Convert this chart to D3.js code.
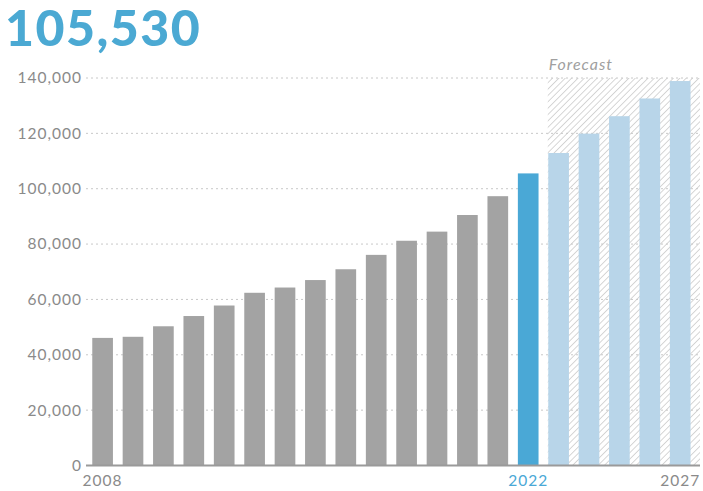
<!DOCTYPE html>
<html>
<head>
<meta charset="utf-8">
<script src="https://cdn.jsdelivr.net/npm/d3@7"></script>
<style>
  body { margin: 0; background: #fff; }
  svg { display: block; font-family: Lato, "Open Sans", sans-serif; }
</style>
</head>
<body>
<div id="chart"></div>
<script>
var years = ["2008","2009","2010","2011","2012","2013","2014","2015","2016","2017",
             "2018","2019","2020","2021","2022","2023","2024","2025","2026","2027"];
var values = [46100, 46500, 50300, 54000, 57800, 62400, 64300, 67000, 70900, 76100,
              81200, 84500, 90500, 97300, 105530, 112900, 119900, 126200, 132600, 138900];
var yTicks = [0, 20000, 40000, 60000, 80000, 100000, 120000, 140000];
var xLabels = ["2008", "2022", "2027"];
var currentYear = "2022";
var forecastStart = "2023";
var headline = "105,530";

var width = 703, height = 491;
var margin = {top: 78, right: 3, bottom: 25.5, left: 87.4};

var svg = d3.select("#chart")
  .append("svg")
    .attr("width", width)
    .attr("height", height);

var x = d3.scaleBand()
  .domain(years)
  .range([margin.left, 695.4])
  .paddingInner(0.32)
  .paddingOuter(0.16);

var y = d3.scaleLinear()
  .domain([0, 140000])
  .range([height - margin.bottom, margin.top]);

// hatch pattern for forecast
var defs = svg.append("defs");
var pat = defs.append("pattern")
  .attr("id", "hatch")
  .attr("patternUnits", "userSpaceOnUse")
  .attr("width", 4.5)
  .attr("height", 4.5)
  .attr("patternTransform", "rotate(45)");
pat.append("line")
  .attr("x1", 0).attr("y1", 0)
  .attr("x2", 0).attr("y2", 4.5)
  .style("stroke", "#d2d2d2")
  .style("stroke-width", 1.8);

// headline
svg.append("text")
  .attr("x", 5)
  .attr("y", 46)
  .style("font-size", "50px")
  .style("font-weight", "900")
  .style("fill", "#4ba9d3")
  .style("letter-spacing", "1.5px")
  .text(headline);

// forecast area
var fx = x(forecastStart) - 0.5;
svg.append("rect")
  .attr("x", fx)
  .attr("y", y(140000))
  .attr("width", width - 3 - fx)
  .attr("height", y(0) - y(140000))
  .style("fill", "url(#hatch)");

svg.append("text")
  .attr("x", fx + 1)
  .attr("y", 70)
  .style("font-size", "16px")
  .style("font-style", "italic")
  .style("fill", "#a0a0a0")
  .style("letter-spacing", "1px")
  .text("Forecast");

// gridlines
svg.append("g")
  .selectAll("line")
  .data(yTicks.filter(function(d) { return d > 0; }))
  .enter()
  .append("line")
    .attr("x1", 86)
    .attr("x2", width - 3)
    .attr("y1", function(d) { return y(d); })
    .attr("y2", function(d) { return y(d); })
    .style("stroke", "#c8c8c8")
    .style("stroke-width", 1)
    .style("stroke-dasharray", "2,3");

// y labels
svg.append("g")
  .selectAll("text")
  .data(yTicks)
  .enter()
  .append("text")
    .attr("x", 82)
    .attr("y", function(d) { return y(d); })
    .attr("dy", "0.35em")
    .style("text-anchor", "end")
    .style("font-size", "15.5px")
    .style("letter-spacing", "1px")
    .style("fill", "#8a8a8a")
    .text(function(d) { return d3.format(",")(d); });

// bars
svg.append("g")
  .selectAll("rect")
  .data(years)
  .enter()
  .append("rect")
    .attr("x", function(d) { return x(d); })
    .attr("width", x.bandwidth())
    .attr("y", function(d, i) { return y(values[i]); })
    .attr("height", function(d, i) { return y(0) - y(values[i]); })
    .style("fill", function(d) {
      if (d === currentYear) return "#4aa8d6";
      if (+d > +currentYear) return "#b8d5e9";
      return "#a3a3a3";
    });

// baseline
svg.append("line")
  .attr("x1", 86)
  .attr("x2", width - 3)
  .attr("y1", y(0))
  .attr("y2", y(0))
  .style("stroke", "#9a9a9a")
  .style("stroke-width", 2);

// x labels
svg.append("g")
  .selectAll("text")
  .data(xLabels)
  .enter()
  .append("text")
    .attr("x", function(d) { return x(d) + x.bandwidth() / 2; })
    .attr("y", 486)
    .style("text-anchor", "middle")
    .style("font-size", "15.5px")
    .style("letter-spacing", "1px")
    .style("fill", function(d) { return d === currentYear ? "#4aa8d6" : "#8a8a8a"; })
    .text(function(d) { return d; });
</script>
</body>
</html>
